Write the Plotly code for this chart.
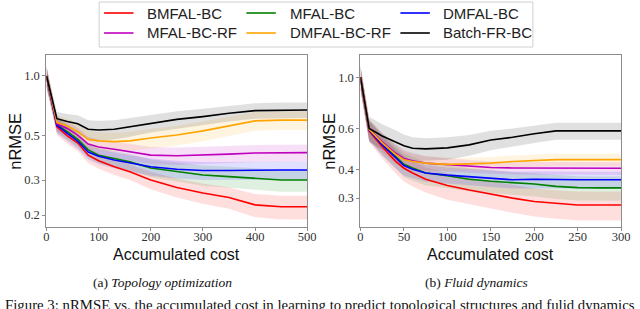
import plotly.graph_objects as go

# ---------------- data: (a) Topology optimization ----------------
cost_a = [0, 20, 40, 60, 80, 100, 130, 160, 200, 250, 300, 350, 400, 450, 500]
a_bmfal = [1.0, 0.555, 0.50, 0.46, 0.40, 0.375, 0.35, 0.33, 0.30, 0.275, 0.258, 0.245, 0.225, 0.22, 0.22]
a_mfal = [1.0, 0.57, 0.525, 0.48, 0.425, 0.40, 0.385, 0.37, 0.345, 0.33, 0.318, 0.312, 0.307, 0.30, 0.30]
a_dmfal = [1.0, 0.565, 0.515, 0.47, 0.415, 0.395, 0.378, 0.365, 0.35, 0.34, 0.335, 0.335, 0.337, 0.337, 0.337]
a_mfal_rf = [1.0, 0.575, 0.545, 0.505, 0.455, 0.44, 0.428, 0.415, 0.40, 0.397, 0.40, 0.405, 0.41, 0.412, 0.412]
a_dmfal_rf = [1.0, 0.585, 0.56, 0.525, 0.48, 0.472, 0.468, 0.472, 0.488, 0.505, 0.53, 0.56, 0.595, 0.60, 0.60]
a_batch = [1.0, 0.61, 0.59, 0.575, 0.54, 0.535, 0.54, 0.555, 0.58, 0.605, 0.625, 0.65, 0.67, 0.675, 0.675]

a_bmfal_sd = [0.12, 0.05, 0.045, 0.04, 0.035, 0.033, 0.032, 0.03, 0.03, 0.03, 0.03, 0.03, 0.03, 0.03, 0.03]
a_mfal_sd = [0.12, 0.05, 0.045, 0.04, 0.035, 0.035, 0.035, 0.035, 0.035, 0.036, 0.037, 0.038, 0.038, 0.038, 0.038]
a_dmfal_sd = [0.12, 0.05, 0.045, 0.04, 0.035, 0.035, 0.035, 0.035, 0.035, 0.035, 0.035, 0.035, 0.035, 0.035, 0.035]
a_mfal_rf_sd = [0.12, 0.05, 0.045, 0.042, 0.04, 0.04, 0.04, 0.04, 0.04, 0.04, 0.04, 0.04, 0.04, 0.04, 0.04]
a_dmfal_rf_sd = [0.12, 0.05, 0.05, 0.05, 0.05, 0.05, 0.05, 0.052, 0.055, 0.058, 0.06, 0.062, 0.065, 0.065, 0.065]
a_batch_sd = [0.12, 0.05, 0.055, 0.06, 0.06, 0.06, 0.06, 0.06, 0.06, 0.06, 0.06, 0.06, 0.06, 0.06, 0.06]

# ---------------- data: (b) Fluid dynamics ----------------
cost_b = [0, 10, 25, 40, 50, 60, 75, 100, 125, 150, 175, 200, 225, 250, 275, 300]
b_bmfal = [1.0, 0.585, 0.50, 0.435, 0.404, 0.385, 0.362, 0.34, 0.325, 0.312, 0.30, 0.29, 0.284, 0.28, 0.28, 0.28]
b_mfal = [1.0, 0.595, 0.515, 0.455, 0.42, 0.405, 0.385, 0.375, 0.362, 0.355, 0.35, 0.345, 0.337, 0.333, 0.332, 0.332]
b_dmfal = [1.0, 0.59, 0.51, 0.45, 0.415, 0.40, 0.385, 0.377, 0.372, 0.365, 0.36, 0.362, 0.36, 0.36, 0.36, 0.36]
b_mfal_rf = [1.0, 0.595, 0.525, 0.47, 0.445, 0.435, 0.425, 0.418, 0.412, 0.407, 0.405, 0.405, 0.405, 0.404, 0.404, 0.404]
b_dmfal_rf = [1.0, 0.595, 0.52, 0.465, 0.44, 0.432, 0.425, 0.42, 0.422, 0.425, 0.432, 0.436, 0.44, 0.44, 0.44, 0.44]
b_batch = [1.0, 0.60, 0.557, 0.527, 0.505, 0.493, 0.49, 0.495, 0.51, 0.535, 0.55, 0.57, 0.586, 0.586, 0.586, 0.586]

b_bmfal_sd = [0.12, 0.06, 0.055, 0.05, 0.05, 0.048, 0.045, 0.045, 0.043, 0.042, 0.041, 0.04, 0.04, 0.04, 0.04, 0.04]
b_mfal_sd = [0.12, 0.06, 0.055, 0.05, 0.05, 0.048, 0.045, 0.043, 0.042, 0.041, 0.04, 0.04, 0.04, 0.04, 0.04, 0.04]
b_dmfal_sd = [0.12, 0.06, 0.05, 0.045, 0.04, 0.035, 0.032, 0.03, 0.03, 0.03, 0.03, 0.03, 0.03, 0.03, 0.03, 0.03]
b_mfal_rf_sd = [0.12, 0.06, 0.05, 0.045, 0.04, 0.035, 0.03, 0.028, 0.026, 0.025, 0.025, 0.025, 0.025, 0.025, 0.025, 0.025]
b_dmfal_rf_sd = [0.12, 0.06, 0.05, 0.045, 0.04, 0.035, 0.03, 0.028, 0.027, 0.027, 0.027, 0.027, 0.027, 0.027, 0.027, 0.027]
b_batch_sd = [0.12, 0.075, 0.07, 0.065, 0.06, 0.057, 0.055, 0.055, 0.053, 0.052, 0.05, 0.05, 0.05, 0.05, 0.05, 0.05]

names = ["BMFAL-BC", "MFAL-BC", "DMFAL-BC", "MFAL-BC-RF", "DMFAL-BC-RF", "Batch-FR-BC"]
colors = ["#ff0000", "#008000", "#0000ff", "#bf00bf", "#ffa500", "#000000"]
band_colors = ["rgba(255,0,0,0.13)", "rgba(0,128,0,0.12)", "rgba(0,0,255,0.12)",
               "rgba(191,0,191,0.12)", "rgba(255,165,0,0.12)", "rgba(0,0,0,0.12)"]

panel_a = [a_bmfal, a_mfal, a_dmfal, a_mfal_rf, a_dmfal_rf, a_batch]
panel_a_sd = [a_bmfal_sd, a_mfal_sd, a_dmfal_sd, a_mfal_rf_sd, a_dmfal_rf_sd, a_batch_sd]
panel_b = [b_bmfal, b_mfal, b_dmfal, b_mfal_rf, b_dmfal_rf, b_batch]
panel_b_sd = [b_bmfal_sd, b_mfal_sd, b_dmfal_sd, b_mfal_rf_sd, b_dmfal_rf_sd, b_batch_sd]

fig = go.Figure()

def add_panel(xs, series, sds, xa, ya):
    for i, (ys, sd) in enumerate(zip(series, sds)):
        up = [y + s for y, s in zip(ys, sd)]
        lo = [y - s for y, s in zip(ys, sd)]
        fig.add_trace(go.Scatter(x=xs + xs[::-1], y=up + lo[::-1], fill="toself",
                                 fillcolor=band_colors[i], line=dict(width=0),
                                 mode="lines", showlegend=False, hoverinfo="skip",
                                 xaxis=xa, yaxis=ya))
    for i, ys in enumerate(series):
        fig.add_trace(go.Scatter(x=xs, y=ys, mode="lines", name=names[i],
                                 line=dict(color=colors[i], width=1.6),
                                 showlegend=False, xaxis=xa, yaxis=ya))

add_panel(cost_a, panel_a, panel_a_sd, "x", "y")
add_panel(cost_b, panel_b, panel_b_sd, "x2", "y2")

W, H = 640, 309
def px(v):
    return v / W
def py(v):
    return (H - v) / H

serif = "Liberation Serif"
sans = "Liberation Sans"
axis_common = dict(showline=True, mirror=True, linecolor="#8c8c8c", linewidth=1.2,
                   ticks="outside", ticklen=3, tickcolor="#8c8c8c", tickwidth=1,
                   showgrid=False, zeroline=False,
                   tickfont=dict(family=serif, size=12.5, color="#333333"))

fig.update_layout(
    width=W, height=H, margin=dict(l=0, r=0, t=0, b=0),
    plot_bgcolor="white", paper_bgcolor="white", showlegend=False,
    xaxis=dict(domain=[px(44.3), px(310)], range=[0, 500], tickvals=[0, 100, 200, 300, 400, 500],
               anchor="y", ticklabelstandoff=-5, **axis_common),
    yaxis=dict(domain=[py(227), py(55)], type="log", range=[-0.759, 0.1055],
               tickvals=[0.2, 0.3, 0.5, 1.0], ticktext=["0.2", "0.3", "0.5", "1.0"],
               anchor="x", **axis_common),
    xaxis2=dict(domain=[px(364.3), px(630)], range=[0, 300], tickvals=[0, 50, 100, 150, 200, 250, 300],
                anchor="y2", ticklabelstandoff=-5, **axis_common),
    yaxis2=dict(domain=[py(227), py(55)], type="log", range=[-0.648, 0.0965],
                tickvals=[0.3, 0.4, 0.6, 1.0], ticktext=["0.3", "0.4", "0.6", "1.0"],
                anchor="x2", **axis_common),
)

# legend box (3 columns x 2 rows, column-wise order as in the reference)
shapes = [dict(type="rect", xref="paper", yref="paper", x0=px(98), x1=px(540), y0=py(47), y1=py(2),
               line=dict(color="#d0d0d0", width=1), fillcolor="white", layer="above")]
ann = []
col_line_x = [103, 248, 405]
col_text_x = [145, 290, 446]
row_y = [13, 33]
for i, nm in enumerate(names):
    r, c = divmod(i, 3)
    shapes.append(dict(type="line", xref="paper", yref="paper",
                       x0=px(col_line_x[c]), x1=px(col_line_x[c] + 30),
                       y0=py(row_y[r]), y1=py(row_y[r]),
                       line=dict(color=colors[i], width=1.6), layer="above"))
    ann.append(dict(x=px(col_text_x[c]), y=py(row_y[r]), xref="paper", yref="paper", text=nm,
                    showarrow=False, xanchor="left", yanchor="middle",
                    font=dict(family=sans, size=15, color="#222222")))

for cx in (12, 332):
    ann.append(dict(x=px(cx), y=py(141), xref="paper", yref="paper", text="nRMSE",
                    textangle=-90, showarrow=False, xanchor="center", yanchor="middle",
                    font=dict(family=sans, size=16.5, color="#111111")))
for cx in (177, 497):
    ann.append(dict(x=px(cx), y=py(254), xref="paper", yref="paper", text="Accumulated cost",
                    showarrow=False, xanchor="center", yanchor="middle",
                    font=dict(family=sans, size=16, color="#111111")))
ann.append(dict(x=px(163), y=py(282), xref="paper", yref="paper",
                text="(a) <i>Topology optimization</i>", showarrow=False,
                xanchor="center", yanchor="middle", font=dict(family=serif, size=13.5, color="#111111")))
ann.append(dict(x=px(483), y=py(282), xref="paper", yref="paper",
                text="(b) <i>Fluid dynamics</i>", showarrow=False,
                xanchor="center", yanchor="middle", font=dict(family=serif, size=13.5, color="#111111")))
ann.append(dict(x=px(0), y=py(305), xref="paper", yref="paper",
                text="Figure 3: nRMSE vs. the accumulated cost in learning to predict topological structures and fulid dynamics",
                showarrow=False, xanchor="left", yanchor="middle",
                font=dict(family=serif, size=14.8, color="#111111")))
fig.update_layout(annotations=ann, shapes=shapes)

fig.write_html("out.html", config={"displayModeBar": False},
               post_script="document.body.style.margin='0';document.body.style.overflow='hidden';")
